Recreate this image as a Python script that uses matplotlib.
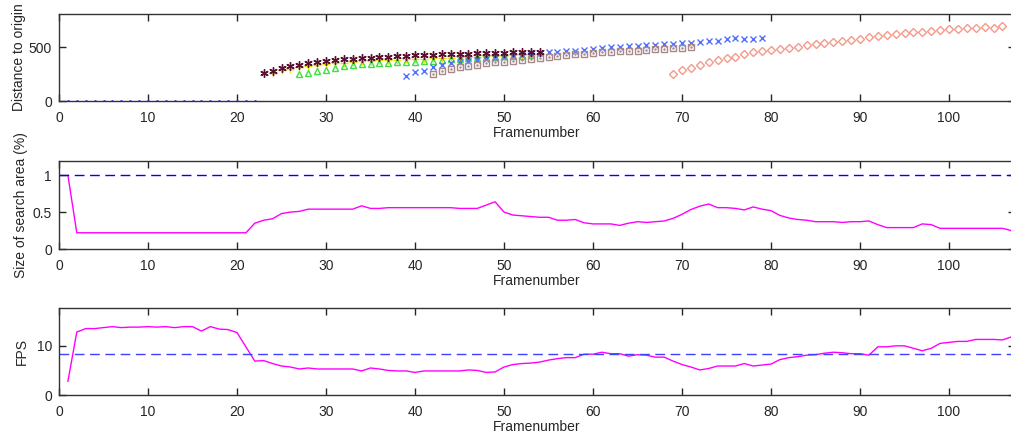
import matplotlib
matplotlib.use('Agg')

import numpy as np
import matplotlib.pyplot as plt

# ==============================
# DATA
# ==============================

# top panel: distance to origin per tracked object
zero_frames = list(range(1, 23))
zero_vals = [0] * 22

star_frames = list(range(23, 55))
star_vals = [256, 281, 303, 322, 338, 350, 360, 370, 378, 385, 391, 397, 402, 407, 411, 415,
             419, 422, 426, 429, 432, 435, 437, 440, 442, 445, 447, 449, 451, 453, 455, 457]

plus_frames = list(range(24, 54))
plus_vals = [262, 285, 300, 313, 325, 335, 343, 350, 356, 362, 367, 372, 376, 380, 383, 386,
             389, 392, 395, 398, 401, 404, 407, 410, 413, 416, 419, 422, 425, 428]

tri_frames = list(range(27, 54))
tri_vals = [247, 256, 278, 292, 310, 322, 332, 340, 346, 350, 354, 358, 362, 366, 370, 374,
            380, 386, 391, 396, 401, 405, 409, 413, 417, 421, 425]

dot_frames = list(range(45, 55))
dot_vals = [395, 400, 405, 410, 414, 418, 422, 426, 430, 434]

x_frames = list(range(39, 80))
x_vals = [232, 268, 280, 318, 338, 350, 360, 370, 380, 390, 400, 410, 420, 428, 436, 443,
          450, 456, 462, 468, 474, 480, 490, 496, 502, 507, 512, 517, 522, 527, 531, 535,
          539, 550, 558, 558, 571, 580, 574, 574, 586]

sq_frames = list(range(42, 72))
sq_vals = [252, 278, 293, 315, 328, 335, 348, 358, 362, 375, 383, 388, 396, 408, 416, 428,
           434, 440, 447, 452, 456, 460, 464, 468, 474, 480, 486, 490, 494, 497]

dia_frames = list(range(69, 107))
dia_vals = [250, 287, 306, 333, 364, 380, 401, 410, 435, 451, 466, 472, 484, 494, 503, 519,
            525, 534, 543, 556, 565, 574, 590, 602, 614, 623, 632, 642, 642, 651, 657, 664,
            664, 673, 673, 682, 680, 697]

# middle + bottom panels
frames = list(range(1, 108))
search_area = [1.0] + [0.22] * 20 + [
    0.35, 0.39, 0.41, 0.48, 0.50, 0.51, 0.54, 0.54, 0.54, 0.54, 0.54, 0.54,   # 22-33
    0.585, 0.55, 0.55, 0.56, 0.56, 0.56, 0.56, 0.56, 0.56, 0.56, 0.56, 0.55,  # 34-45
    0.55, 0.55, 0.595, 0.64, 0.50, 0.46, 0.45, 0.44, 0.43, 0.43, 0.39, 0.39,  # 46-57
    0.40, 0.355, 0.34, 0.34, 0.34, 0.32, 0.35, 0.37, 0.36, 0.37, 0.38, 0.415, # 58-69
    0.47, 0.535, 0.58, 0.61, 0.56, 0.56, 0.55, 0.53, 0.57, 0.54, 0.52, 0.455, # 70-81
    0.42, 0.40, 0.39, 0.37, 0.37, 0.37, 0.36, 0.37, 0.37, 0.38, 0.33, 0.29,   # 82-93
    0.29, 0.29, 0.29, 0.34, 0.33, 0.28, 0.28, 0.28, 0.28, 0.28, 0.28, 0.28,   # 94-105
    0.28, 0.25]                                                               # 106-107
search_ref = 1.0

fps = [2.8, 12.8, 13.5, 13.5, 13.7, 13.9, 13.7, 13.8, 13.8, 13.9, 13.8, 13.9, 13.7,  # 1-13
       13.9, 13.9, 13.0, 13.9, 13.4, 13.3, 12.7, 9.8, 6.9, 7.0, 6.4, 5.9, 5.7,        # 14-26
       5.3, 5.5, 5.3, 5.3, 5.3, 5.3, 5.3, 4.9, 5.5, 5.3, 5.0, 4.9, 4.9, 4.6, 4.9,      # 27-41
       4.9, 4.9, 4.9, 4.9, 5.1, 5.0, 4.6, 4.7, 5.7, 6.2, 6.4, 6.5, 6.7, 7.1, 7.4,      # 42-56
       7.6, 7.6, 8.3, 8.3, 8.7, 8.4, 8.4, 7.9, 8.2, 8.1, 7.7, 7.7, 6.9, 6.2, 5.7,      # 57-71
       5.1, 5.4, 5.9, 5.9, 5.9, 6.4, 5.9, 6.1, 6.3, 7.2, 7.6, 7.8, 8.1, 8.2, 8.5,      # 72-86
       8.7, 8.6, 8.4, 8.4, 8.1, 9.8, 9.8, 10.0, 10.0, 9.5, 9.0, 9.5, 10.5, 10.7,       # 87-100
       10.9, 10.9, 11.3, 11.3, 11.3, 11.2, 11.8]                                     # 101-107
fps_ref = 8.4

# ==============================
# FIGURE
# ==============================

plt.rcParams['font.family'] = ['Liberation Sans', 'DejaVu Sans']
plt.rcParams['font.size'] = 10

fig = plt.figure(figsize=(10.11, 4.38), dpi=100)

left = 59 / 1011
width = 8.9 * 107.4 / 1011
ax1 = fig.add_axes([left, 0.769, width, 0.199])
ax2 = fig.add_axes([left, 0.4315, width, 0.2005])
ax3 = fig.add_axes([left, 0.098, width, 0.199])

for ax in (ax1, ax2, ax3):
    ax.set_xlim(0, 107.4)
    ax.set_xticks(np.arange(0, 101, 10))
    ax.tick_params(direction='in', length=5, top=True, right=True, pad=5,
                   colors='#262626', labelcolor='#262626', width=1)
    ax.tick_params(axis='x', pad=7)
    for s in ax.spines.values():
        s.set_color('#333333')
        s.set_linewidth(1)
    ax.set_xlabel("Framenumber", labelpad=1, color='#262626')

# top panel
ax1.plot(zero_frames, zero_vals, '.', color='#3030ff', markersize=2)
ax1.plot(plus_frames, plus_vals, '+', color='#e6e600', markersize=6, mew=1)
ax1.plot(tri_frames, tri_vals, '^', mfc='none', mec='#40e040', markersize=5, mew=1)
ax1.plot(dot_frames, dot_vals, '.', color='#2a8a2a', markersize=4)
ax1.plot(x_frames, x_vals, 'x', color='#5070ff', markersize=5, mew=1)
ax1.plot(sq_frames, sq_vals, 's', mfc='none', mec='#a88888', markersize=5, mew=1)
ax1.plot(sq_frames, sq_vals, '.', color='#a88888', markersize=1.5)
ax1.plot(dia_frames, dia_vals, 'D', mfc='none', mec='#f49a8a', markersize=4.5, mew=1)
ax1.plot(star_frames, star_vals, marker=(6, 2, 0), ls='none', color='#5a1030',
         markersize=6, mew=1)
ax1.set_ylim(0, 805)
ax1.set_yticks([0, 500])
ax1.set_ylabel("Distance to origin", color='#262626')
ax1.yaxis.set_label_coords(-0.035, 0.5)

# middle panel
ax2.plot(frames, search_area, color='#ff00ff', lw=1)
ax2.axhline(search_ref, color='#0000ff', lw=1, ls=(0, (7, 4)))
ax2.set_ylim(0, 1.19)
ax2.set_yticks([0, 0.5, 1])
ax2.set_yticklabels(['0', '0.5', '1'])
ax2.set_ylabel("Size of search area (%)", color='#262626')
ax2.yaxis.set_label_coords(-0.032, 0.5)

# bottom panel
ax3.plot(frames, fps, color='#ff00ff', lw=1)
ax3.axhline(fps_ref, color='#4040ff', lw=1, ls=(0, (7, 4)))
ax3.set_ylim(0, 17.7)
ax3.set_yticks([0, 10])
ax3.set_ylabel("FPS", color='#262626')
ax3.yaxis.set_label_coords(-0.032, 0.5)

fig.savefig("out.png", dpi=100)
